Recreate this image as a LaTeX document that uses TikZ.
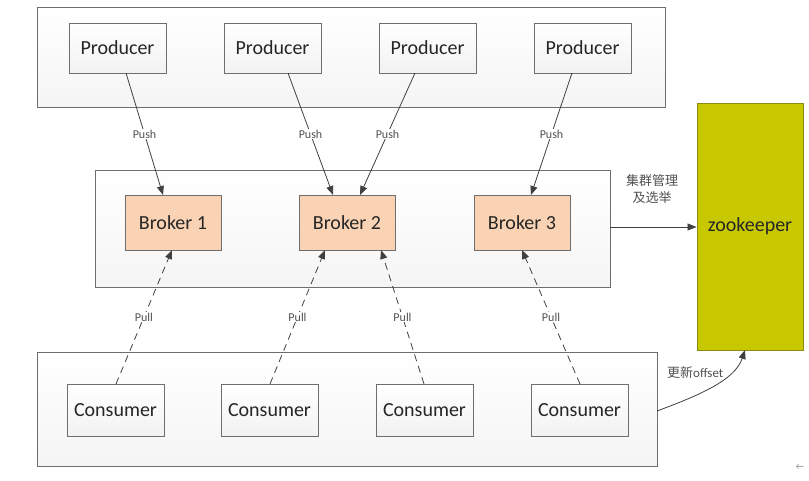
\documentclass[tikz,border=0pt]{standalone}
\usepackage{fontspec}
\setmainfont{Carlito}
\newfontfamily\cjk{Noto Sans CJK SC}
\usetikzlibrary{arrows.meta}
\definecolor{boxline}{RGB}{110,110,110}
\definecolor{brokerfill}{RGB}{250,211,180}
\definecolor{zkfill}{RGB}{200,200,0}
\definecolor{zkline}{RGB}{140,140,20}
\definecolor{lbl}{RGB}{80,80,80}
\tikzset{
  x=1pt,y=-1pt,
  container/.style={draw=boxline,line width=0.9pt,top color=white,bottom color=gray!8,minimum width=#1},
  pbox/.style={draw=boxline,line width=0.9pt,top color=white,bottom color=gray!10,minimum width=97pt,minimum height=50pt,font=\fontsize{20}{22}\selectfont,text=black!85},
  bbox/.style={draw=boxline,line width=0.9pt,fill=brokerfill,minimum width=96pt,minimum height=55pt,font=\fontsize{20}{22}\selectfont,text=black!85},
  conn/.style={draw=black!75,line width=0.8pt,-{Triangle[length=9pt,width=7pt]}},
  dconn/.style={conn,dash pattern=on 7pt off 5pt},
  elabel/.style={font=\fontsize{12}{14}\selectfont,text=lbl,fill=white,inner sep=1pt},
}
\begin{document}
\begin{tikzpicture}
\useasboundingbox (0,0) rectangle (809,480);
% containers
\node[container=628pt,minimum height=100pt] (top) at (351,57) {};
\node[container=515pt,minimum height=117pt] (mid) at (352.5,228.5) {};
\node[container=620pt,minimum height=114pt] (bot) at (347,409) {};
% zookeeper
\node[draw=zkline,line width=0.9pt,fill=zkfill,minimum width=106pt,minimum height=247pt,font=\fontsize{20}{22}\selectfont,text=black!85] (zk) at (750,226.5) {zookeeper};
% producers
\node[pbox] (p1) at (117.5,48) {Producer};
\node[pbox] (p2) at (272.5,48) {Producer};
\node[pbox] (p3) at (427.5,48) {Producer};
\node[pbox] (p4) at (582.5,48) {Producer};
% brokers
\node[bbox] (b1) at (173,222.5) {Broker 1};
\node[bbox] (b2) at (347,222.5) {Broker 2};
\node[bbox] (b3) at (522,222.5) {Broker 3};
% consumers
\node[pbox,minimum height=52pt] (c1) at (115.5,410) {Consumer};
\node[pbox,minimum height=52pt] (c2) at (269.5,410) {Consumer};
\node[pbox,minimum height=52pt] (c3) at (424.5,410) {Consumer};
\node[pbox,minimum height=52pt] (c4) at (579.5,410) {Consumer};
% coordinates
\coordinate (p1s) at (126,73); \coordinate (b1n) at (163,195);
\coordinate (p2s) at (288,73); \coordinate (b2nl) at (333,195);
\coordinate (p3s) at (415,73); \coordinate (b2nr) at (360,195);
\coordinate (p4s) at (572,73); \coordinate (b3n) at (531,195);
\coordinate (c1n) at (116,384); \coordinate (b1s) at (172,250);
\coordinate (c2n) at (270,384); \coordinate (b2sl) at (325,250);
\coordinate (c3n) at (424,384); \coordinate (b2sr) at (381,250);
\coordinate (c4n) at (580,384); \coordinate (b3s) at (522,250);
% push
\draw[conn] (p1s) -- node[elabel,pos=0.5] {Push} (b1n);
\draw[conn] (p2s) -- node[elabel,pos=0.5] {Push} (b2nl);
\draw[conn] (p3s) -- node[elabel,pos=0.5] {Push} (b2nr);
\draw[conn] (p4s) -- node[elabel,pos=0.5] {Push} (b3n);
% pull
\draw[dconn] (c1n) -- node[elabel,pos=0.5] {Pull} (b1s);
\draw[dconn] (c2n) -- node[elabel,pos=0.5] {Pull} (b2sl);
\draw[dconn] (c3n) -- node[elabel,pos=0.5] {Pull} (b2sr);
\draw[dconn] (c4n) -- node[elabel,pos=0.5] {Pull} (b3s);
% to zookeeper
\coordinate (midr) at (mid.east |- 0,227);
\draw[conn] (midr) -- (zk.west |- midr);
\node[font=\cjk\fontsize{13}{17}\selectfont,text=lbl,align=center] (l1) at (652,189) {集群管理\\及选举};
\coordinate (botr) at (657,411);
\coordinate (zkb) at (745,350);
\draw[conn] (botr) .. controls (700,395) and (735,380) .. (zkb);
\node[font=\fontsize{13}{15}\selectfont,text=lbl,anchor=west,inner sep=0pt] (l2) at (667,373) {{\cjk 更新}offset};
\node[font=\fontsize{9}{10}\selectfont,text=gray] (arr) at (800,467) {←};
\end{tikzpicture}
\end{document}
